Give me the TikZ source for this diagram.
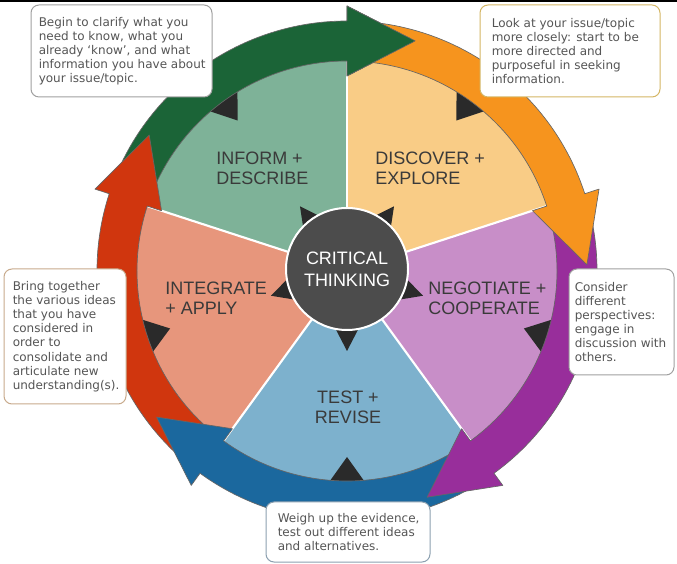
\documentclass[tikz,border=0pt]{standalone}
\usepackage{fontspec}
\setmainfont{Liberation Sans}
\newfontfamily\calloutfont{DejaVu Sans}
\usetikzlibrary{calc,fit}

\definecolor{secInform}{RGB}{126,178,152}
\definecolor{secDiscover}{RGB}{249,204,134}
\definecolor{secNegotiate}{RGB}{200,142,200}
\definecolor{secTest}{RGB}{125,177,205}
\definecolor{secIntegrate}{RGB}{231,150,124}
\definecolor{arrGreen}{RGB}{27,100,55}
\definecolor{arrOrange}{RGB}{246,148,30}
\definecolor{arrPurple}{RGB}{152,46,155}
\definecolor{arrBlue}{RGB}{27,104,158}
\definecolor{arrRed}{RGB}{208,54,14}
\definecolor{hubgray}{RGB}{76,76,76}
\definecolor{tricol}{RGB}{42,42,42}
\definecolor{labeltext}{RGB}{58,58,58}
\definecolor{callouttext}{RGB}{85,85,85}
\definecolor{boxgray}{RGB}{160,160,160}
\definecolor{boxgold}{RGB}{212,182,100}
\definecolor{boxtan}{RGB}{200,170,140}
\definecolor{boxblue}{RGB}{140,160,176}

\newcommand{\wheelsector}[3]{\fill[#1] (0,0) -- (#2:211) arc[start angle=#2, end angle=#3, radius=211] -- cycle;}
\newcommand{\cyclearrow}[3]{%
  \pgfmathsetmacro{\tipang}{#2-16.5}%
  \filldraw[fill=#1, arrowline] (#3:250) arc[start angle=#3, end angle=#2, radius=250] -- (#2:265) -- (\tipang:240) -- (#2:195) -- (#2:210) arc[start angle=#2, end angle=#3, radius=210] -- cycle;}
\newcommand{\rimtri}[1]{\fill[tricol] (#1:186) -- ({#1+5.5}:216) -- ({#1-5.5}:216) -- cycle;}
\newcommand{\hubtri}[1]{\fill[tricol] (#1:80) -- ({#1+20}:50) -- ({#1-20}:50) -- cycle;}

\tikzset{
  arrowline/.style={draw=black!60, line width=0.5pt, line join=round},
  seclabel/.style={font=\fontsize{13.5}{15}\selectfont, text=labeltext, align=left, inner sep=0pt},
  callout/.style={font=\calloutfont\fontsize{9}{10.6}\selectfont, text=callouttext, align=left, inner sep=0pt},
  callbox/.style={draw, fill=white, rounded corners=6pt, line width=0.75pt, inner sep=0pt}
}

\begin{document}
\begin{tikzpicture}[x=0.75pt,y=0.75pt]
\useasboundingbox (0,0) rectangle (677,563);
\fill[white] (0,0) rectangle (677,563);
\fill[black] (0,561) rectangle (677,563);

\begin{scope}[shift={(347,292)}]
  % sectors
  \wheelsector{secInform}{90}{162}
  \wheelsector{secDiscover}{18}{90}
  \wheelsector{secNegotiate}{-54}{18}
  \wheelsector{secTest}{-126}{-54}
  \wheelsector{secIntegrate}{162}{234}
  \foreach \a in {90,18,-54,-126,162} \draw[white, line width=1.6pt] (0,0) -- (\a:211);
  % rim triangles
  \rimtri{126}
  \rimtri{54}
  \rimtri{-18}
  \rimtri{-90}
  \rimtri{198}
  % cycle arrows
  \cyclearrow{arrGreen}{90}{160}
  \cyclearrow{arrRed}{162}{232}
  \cyclearrow{arrBlue}{234}{304}
  \cyclearrow{arrPurple}{-54}{16}
  \cyclearrow{arrOrange}{18}{88}
  \fill[arrGreen] (90:195) -- (73.5:240) -- (90:265) -- cycle;
  \draw[arrowline] (90:210) -- (90:195) -- (73.5:240) -- (90:265) -- (90:250);
  % hub star
  \hubtri{126}
  \hubtri{54}
  \hubtri{-18}
  \hubtri{-90}
  \hubtri{198}
  \node[circle, fill=hubgray, draw=white, line width=1.5pt, minimum size=91.5pt, inner sep=0pt,
        font=\fontsize{13.5}{16.5}\selectfont, text=white, align=center] (hub) at (0,2) {CRITICAL\\THINKING};
\end{scope}

% sector labels
\node[seclabel, anchor=west] (inform) at (216,395) {INFORM +\\DESCRIBE};
\node[seclabel, anchor=west] (discover) at (375,395) {DISCOVER +\\EXPLORE};
\node[seclabel, anchor=west] (integrate) at (165,265) {INTEGRATE\\+ APPLY};
\node[seclabel, anchor=west] (negotiate) at (428,265) {NEGOTIATE +\\COOPERATE};
\node[seclabel, align=center] (test) at (348,156) {TEST +\\REVISE};

% callout boxes
\node[callbox, draw=boxgray, fit={(31,558) (212,466)}] (box1) {};
\node[callout, anchor=west] (txt1) at ($(box1.west)+(8,0)$) {Begin to clarify what you\\need to know, what you\\already ‘know’, and what\\information you have about\\your issue/topic.};

\node[callbox, draw=boxgold, fit={(480,558) (660,466)}] (box2) {};
\node[callout, anchor=west] (txt2) at ($(box2.west)+(12,0)$) {Look at your issue/topic\\more closely: start to be\\more directed and\\purposeful in seeking\\information.};

\node[callbox, draw=boxgray, fit={(569,294) (674,188)}] (box3) {};
\node[callout, anchor=west] (txt3) at ($(box3.west)+(6,0)$) {Consider\\different\\perspectives:\\engage in\\discussion with\\others.};

\node[callbox, draw=boxtan, fit={(4,294) (126,159)}] (box4) {};
\node[callout, anchor=west] (txt4) at ($(box4.west)+(9,0)$) {Bring together\\the various ideas\\that you have\\considered in\\order to\\consolidate and\\articulate new\\understanding(s).};

\node[callbox, draw=boxblue, fit={(266,61) (430,1)}] (box5) {};
\node[callout, anchor=west] (txt5) at ($(box5.west)+(12,0)$) {Weigh up the evidence,\\test out different ideas\\and alternatives.};
\end{tikzpicture}
\end{document}
